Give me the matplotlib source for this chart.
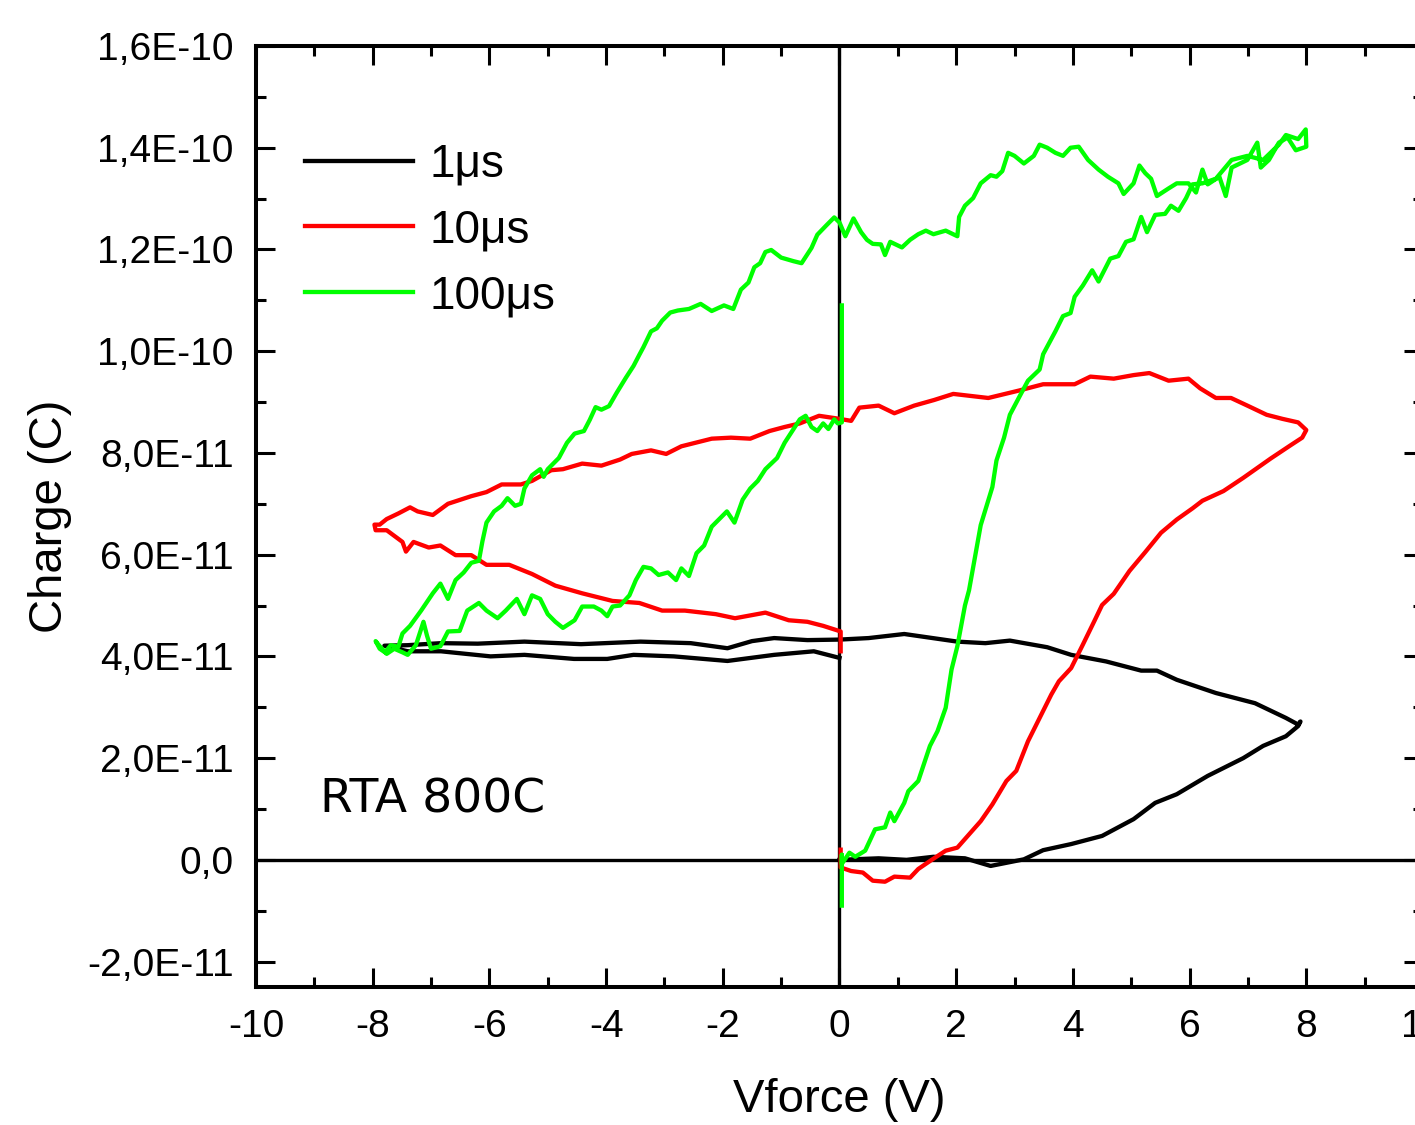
import numpy as np
import matplotlib
matplotlib.use('Agg')
import matplotlib.pyplot as plt
from matplotlib.ticker import MultipleLocator, FuncFormatter

plt.rcParams['font.family'] = ['Liberation Sans', 'DejaVu Sans']
plt.rcParams['axes.unicode_minus'] = False

# charge values are in units of 1E-11 C
SCALE = 1e-11

# 1us loop: 0 -> +8 -> 0 -> -8 -> 0
v_1us = [0, 0.67, 1.15, 1.61, 2.15, 2.59, 3.16, 3.49, 3.97, 4.5, 5.04, 5.41, 5.78, 6.31, 6.92, 7.26, 7.65, 7.86,
         7.9,
         7.86, 7.65, 7.12, 6.45, 5.78, 5.44, 5.17, 4.57, 3.97, 3.56, 2.92, 2.5, 2.02, 1.11, 0.5, 0,
         -0.55, -1.12, -1.5, -1.92, -2.55, -3.41, -4.43, -5.4, -6.2, -6.83, -7.4, -7.8,
         -7.4, -6.83, -5.98, -5.4, -4.55, -3.98, -3.53, -2.84, -1.92, -1.12, -0.44, 0]
q_1us = [0, 0.03, 0, 0.06, 0.03, -0.12, 0.01, 0.19, 0.31, 0.47, 0.8, 1.12, 1.29, 1.65, 2.0, 2.24, 2.43, 2.63,
         2.72,
         2.66, 2.79, 3.08, 3.28, 3.54, 3.72, 3.72, 3.9, 4.03, 4.18, 4.31, 4.26, 4.29, 4.44, 4.36, 4.33,
         4.32, 4.36, 4.3, 4.16, 4.26, 4.29, 4.24, 4.29, 4.25, 4.26, 4.22, 4.21,
         4.1, 4.1, 4.0, 4.03, 3.95, 3.95, 4.03, 4.0, 3.91, 4.03, 4.1, 3.97]

# 10us loop
v_10us = [0.02, 0.02, 0.2, 0.4, 0.57, 0.78, 0.94, 1.21, 1.35, 1.58, 1.82, 2.02, 2.22, 2.42, 2.62, 2.86, 3.03,
          3.23, 3.43, 3.63, 3.76, 3.97, 4.17, 4.37, 4.5, 4.7, 4.97, 5.24, 5.51, 5.78, 6.05, 6.22, 6.58, 6.92,
          7.39, 7.73, 7.93, 8.0,
          7.86, 7.59, 7.32, 6.99, 6.71, 6.45, 6.18, 5.98, 5.64, 5.31, 5.04, 4.7, 4.3, 4.03, 3.49, 3.09, 2.55,
          1.95, 1.62, 1.28, 0.94, 0.67, 0.34, 0.2, 0,
          -0.35, -0.68, -0.94, -1.2, -1.53, -1.86, -2.19, -2.71, -2.97, -3.23, -3.56, -3.76, -4.08, -4.41,
          -4.74, -4.94, -5.27, -5.46, -5.79, -6.05, -6.31, -6.71, -6.97, -7.23, -7.36, -7.56, -7.76, -7.88,
          -7.97,
          -7.95, -7.76, -7.49, -7.43, -7.3, -7.04, -6.84, -6.58, -6.31, -6.05, -5.66, -5.27, -4.87, -4.41,
          -3.89, -3.43, -3.04, -2.65, -2.12, -1.79, -1.27, -0.87, -0.55, -0.28, 0.02, 0.02]
q_10us = [0.2, -0.15, -0.22, -0.25, -0.41, -0.43, -0.33, -0.35, -0.18, 0.0, 0.18, 0.24, 0.5, 0.76, 1.09, 1.55,
          1.75, 2.33, 2.79, 3.25, 3.51, 3.77, 4.23, 4.7, 5.01, 5.23, 5.68, 6.05, 6.43, 6.69, 6.91, 7.06, 7.25,
          7.51, 7.89, 8.15, 8.3, 8.45,
          8.6, 8.67, 8.75, 8.93, 9.08, 9.08, 9.27, 9.46, 9.42, 9.57, 9.53, 9.46, 9.5, 9.35, 9.35, 9.23, 9.08,
          9.16, 9.04, 8.93, 8.78, 8.93, 8.89, 8.63, 8.67,
          8.73, 8.58, 8.51, 8.43, 8.28, 8.3, 8.28, 8.13, 7.98, 8.05, 7.98, 7.87, 7.75, 7.79, 7.68, 7.66, 7.45,
          7.38, 7.38, 7.23, 7.15, 7.0, 6.78, 6.85, 6.93, 6.81, 6.7, 6.59, 6.59,
          6.48, 6.48, 6.25, 6.06, 6.25, 6.14, 6.18, 5.99, 5.99, 5.8, 5.8, 5.62, 5.39, 5.24, 5.09, 5.05, 4.9,
          4.9, 4.83, 4.75, 4.86, 4.71, 4.68, 4.6, 4.49, 4.1]

# 100us loop
v_100us = [0.04, 0.04, 0.04, 0.17, 0.27, 0.44, 0.61, 0.78, 0.87, 0.94, 1.11, 1.18, 1.35, 1.55, 1.68, 1.82, 1.92,
           2.02, 2.15, 2.22, 2.42, 2.62, 2.69, 2.82, 2.92, 3.09, 3.23, 3.43, 3.49, 3.7, 3.83, 3.96, 4.03, 4.17,
           4.33, 4.44, 4.64, 4.78, 4.91, 5.04, 5.17, 5.27, 5.41, 5.58, 5.68, 5.81, 5.94, 6.05, 6.22, 6.45, 6.72,
           6.99, 7.26, 7.53, 7.65, 7.86, 7.99,
           8.0, 7.82, 7.68, 7.53, 7.36, 7.22, 7.16, 6.99, 6.72, 6.62, 6.51, 6.31, 6.22, 6.11, 5.98, 5.78, 5.64,
           5.44, 5.34, 5.24, 5.14, 5.04, 4.87, 4.78, 4.6, 4.44, 4.26, 4.1, 3.96, 3.83, 3.7, 3.56, 3.43, 3.33,
           3.16, 3.0, 2.89, 2.79, 2.69, 2.59, 2.42, 2.29, 2.15, 2.05, 2.02, 1.82, 1.61, 1.48, 1.35, 1.21, 1.07,
           0.87, 0.78, 0.71, 0.57, 0.47, 0.37, 0.24, 0.1, 0,
           -0.09, -0.22, -0.38, -0.48, -0.65, -0.79, -1.0, -1.17, -1.27, -1.36, -1.46, -1.56, -1.69, -1.82,
           -1.98, -2.19, -2.38, -2.58, -2.77, -2.9, -3.04, -3.13, -3.23, -3.36, -3.43, -3.53, -3.66, -3.82,
           -3.95, -4.08, -4.18, -4.28, -4.38, -4.54, -4.67, -4.81, -5.0, -5.07, -5.13, -5.27, -5.4, -5.46,
           -5.56, -5.69, -5.79, -5.92, -6.05, -6.12, -6.18, -6.31, -6.44, -6.58, -6.71, -6.84, -6.97, -7.17,
           -7.36, -7.49, -7.56, -7.69, -7.79, -7.88, -7.95,
           -7.88, -7.76, -7.63, -7.49, -7.4, -7.26, -7.13, -7.07, -7.0, -6.84, -6.71, -6.51, -6.38, -6.18,
           -6.05, -5.86, -5.72, -5.53, -5.4, -5.27, -5.13, -5.0, -4.87, -4.74, -4.54, -4.41, -4.21, -4.08,
           -3.98, -3.89, -3.76, -3.6, -3.49, -3.36, -3.23, -3.1, -2.94, -2.8, -2.71, -2.58, -2.45, -2.32,
           -2.19, -2.06, -1.93, -1.8, -1.66, -1.53, -1.4, -1.27, -1.07, -0.94, -0.81, -0.68, -0.58, -0.48,
           -0.38, -0.28, -0.19, -0.09, -0.03, 0.04, 0.04]
q_100us = [-0.9, 0.1, -0.08, 0.14, 0.06, 0.18, 0.6, 0.64, 0.93, 0.76, 1.12, 1.35, 1.55, 2.24, 2.53, 2.99, 3.74,
           4.2, 5.0, 5.3, 6.58, 7.33, 7.85, 8.3, 8.75, 9.12, 9.42, 9.64, 9.94, 10.39, 10.69, 10.75, 11.07,
           11.29, 11.59, 11.37, 11.82, 11.87, 12.15, 12.2, 12.64, 12.34, 12.68, 12.7, 12.86, 12.76, 13.01,
           13.28, 13.3, 13.39, 13.76, 13.84, 13.76, 14.06, 14.25, 14.17, 14.36,
           14.02, 13.95, 14.2, 14.1, 13.76, 13.61, 14.1, 13.76, 13.61, 13.05, 13.43, 13.28, 13.57, 13.12,
           13.3, 13.3, 13.2, 13.05, 13.39, 13.5, 13.65, 13.3, 13.09, 13.3, 13.43, 13.57, 13.76, 14.02, 14.0,
           13.84, 13.9, 14.0, 14.06, 13.84, 13.69, 13.84, 13.9, 13.54, 13.43, 13.46, 13.3, 13.01, 12.86,
           12.64, 12.26, 12.37, 12.3, 12.37, 12.3, 12.19, 12.04, 12.15, 11.89, 12.1, 12.11, 12.19, 12.34,
           12.61, 12.26, 12.53,
           12.63, 12.48, 12.29, 12.03, 11.73, 11.77, 11.84, 11.99, 11.95, 11.73, 11.65, 11.35, 11.21, 10.83,
           10.9, 10.79, 10.93, 10.83, 10.8, 10.76, 10.6, 10.45, 10.39, 10.08, 9.93, 9.71, 9.48, 9.18, 8.92,
           8.85, 8.9, 8.65, 8.43, 8.38, 8.2, 7.9, 7.68, 7.53, 7.68, 7.56, 7.3, 7.0, 6.96, 7.11, 6.96, 6.85,
           6.63, 6.26, 5.88, 5.84, 5.65, 5.5, 5.13, 5.43, 5.24, 4.9, 4.6, 4.45, 4.19, 4.22, 4.08, 4.15, 4.3,
           4.2, 4.05, 4.15, 4.08, 4.03, 4.22, 4.68, 4.41, 4.15, 4.2, 4.49, 4.5, 4.9, 5.05, 4.9, 4.75, 4.9,
           5.13, 4.83, 5.2, 5.13, 4.83, 4.68, 4.56, 4.71, 4.98, 4.98, 4.9, 4.79, 4.98, 5.0, 5.2, 5.5, 5.76,
           5.73, 5.6, 5.65, 5.5, 5.73, 5.58, 6.03, 6.18, 6.55, 6.7, 6.85, 6.63, 7.08, 7.3, 7.45, 7.68, 7.9,
           8.2, 8.43, 8.66, 8.73, 8.51, 8.43, 8.58, 8.47, 8.66, 8.58, 8.6, 10.9]

labels = ['1\u03bcs', '10\u03bcs', '100\u03bcs']
colors = ['#000000', '#ff0000', '#00ff00']

fig = plt.figure(figsize=(14.15, 11.25), dpi=100)
ax = fig.add_axes([256 / 1415, 138 / 1125, 1167 / 1415, 941 / 1125])

ax.axhline(0, color='black', lw=2.4, zorder=1.5)
ax.axvline(0, color='black', lw=2.4, zorder=1.5)

series = [(v_1us, q_1us), (v_10us, q_10us), (v_100us, q_100us)]
for (v, q), lab, c in zip(series, labels, colors):
    ax.plot(v, np.array(q) * SCALE, color=c, lw=3.1, label=lab, solid_joinstyle='round')

ax.set_xlim(-10, 10)
ax.set_ylim(-2.5e-11, 1.6e-10)

ax.xaxis.set_major_locator(MultipleLocator(2))
ax.xaxis.set_minor_locator(MultipleLocator(1))
ax.yaxis.set_major_locator(MultipleLocator(2e-11))
ax.yaxis.set_minor_locator(MultipleLocator(1e-11))


def sci_comma(val, pos):
    if abs(val) < 1e-20:
        return '0,0'
    e = int(np.floor(np.log10(abs(val)) + 1e-6))
    m = val / 10 ** e
    return ('%.1fE%d' % (m, e)).replace('.', ',')


ax.yaxis.set_major_formatter(FuncFormatter(sci_comma))
ax.xaxis.set_major_formatter(FuncFormatter(lambda v, p: '%d' % round(v)))

ax.tick_params(which='both', direction='in', top=True, right=True, width=2.2, labelsize=28)
ax.tick_params(which='major', length=13.5)
ax.tick_params(which='minor', length=7)
ax.tick_params(axis='y', pad=16)
ax.tick_params(axis='x', pad=16)
for s in ax.spines.values():
    s.set_linewidth(2.9)

ax.set_xlabel('Vforce (V)', fontsize=34)
ax.set_ylabel('Charge (C)', fontsize=34)
ax.xaxis.set_label_coords(0.5, -0.097)
ax.yaxis.set_label_coords(-0.158, 0.5)

ax.text(0.055, 0.199, 'RTA 800C', transform=ax.transAxes, fontsize=34, va='center',
        family=['DejaVu Sans'])

ax.legend(loc='upper left', bbox_to_anchor=(0.042, 0.897), frameon=False, fontsize=33,
          handlelength=2.35, handletextpad=0.37, labelspacing=0.47, borderpad=0, borderaxespad=0)

fig.savefig('out.png', dpi=100)
